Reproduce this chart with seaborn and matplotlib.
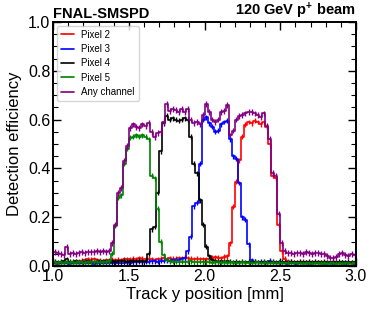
import numpy as np
import pandas as pd
import seaborn as sns
from matplotlib import pyplot as plt
from matplotlib.ticker import MultipleLocator

# efficiency per 0.02 mm bin, 1.0 -> 3.0 mm (10 bins per row)
pixel2 = [0.014, 0.012, 0.015, 0.013, 0.016, 0.014, 0.015, 0.018, 0.020, 0.022,
          0.024, 0.027, 0.026, 0.028, 0.025, 0.022, 0.020, 0.023, 0.025, 0.026,
          0.024, 0.026, 0.025, 0.027, 0.028, 0.026, 0.030, 0.028, 0.032, 0.030,
          0.028, 0.030, 0.027, 0.025, 0.028, 0.030, 0.032, 0.029, 0.031, 0.030,
          0.030, 0.033, 0.031, 0.034, 0.032, 0.030, 0.028, 0.030, 0.029, 0.027,
          0.028, 0.030, 0.034, 0.036, 0.035, 0.033, 0.038, 0.040, 0.093, 0.243,
          0.345, 0.434, 0.530, 0.578, 0.590, 0.585, 0.595, 0.590, 0.580, 0.590,
          0.570, 0.500, 0.370, 0.360, 0.170, 0.060, 0.030, 0.020, 0.018, 0.016,
          0.016, 0.015, 0.017, 0.014, 0.016, 0.015, 0.013, 0.015, 0.014, 0.013,
          0.014, 0.012, 0.013, 0.015, 0.012, 0.014, 0.013, 0.012, 0.013, 0.012]
pixel3 = [0.012, 0.010, 0.013, 0.011, 0.012, 0.010, 0.012, 0.011, 0.013, 0.012,
          0.011, 0.013, 0.012, 0.010, 0.012, 0.013, 0.011, 0.012, 0.013, 0.012,
          0.013, 0.012, 0.014, 0.013, 0.015, 0.014, 0.016, 0.015, 0.017, 0.016,
          0.018, 0.017, 0.019, 0.020, 0.018, 0.021, 0.022, 0.024, 0.022, 0.025,
          0.026, 0.025, 0.028, 0.032, 0.060, 0.120, 0.245, 0.260, 0.420, 0.600,
          0.610, 0.585, 0.570, 0.550, 0.555, 0.580, 0.590, 0.595, 0.520, 0.450,
          0.440, 0.340, 0.200, 0.190, 0.090, 0.025, 0.018, 0.016, 0.018, 0.015,
          0.014, 0.022, 0.016, 0.012, 0.013, 0.011, 0.012, 0.010, 0.012, 0.011,
          0.010, 0.012, 0.011, 0.013, 0.010, 0.012, 0.011, 0.014, 0.012, 0.010,
          0.012, 0.011, 0.010, 0.012, 0.011, 0.013, 0.010, 0.012, 0.011, 0.010]
pixel4 = [0.018, 0.016, 0.018, 0.020, 0.028, 0.018, 0.017, 0.019, 0.016, 0.018,
          0.017, 0.019, 0.018, 0.016, 0.018, 0.020, 0.017, 0.019, 0.018, 0.020,
          0.018, 0.020, 0.019, 0.021, 0.018, 0.020, 0.022, 0.019, 0.021, 0.020,
          0.022, 0.050, 0.150, 0.160, 0.300, 0.470, 0.585, 0.615, 0.600, 0.605,
          0.600, 0.595, 0.600, 0.605, 0.600, 0.530, 0.420, 0.380, 0.270, 0.170,
          0.080, 0.040, 0.025, 0.020, 0.018, 0.020, 0.017, 0.019, 0.018, 0.016,
          0.018, 0.016, 0.017, 0.015, 0.018, 0.016, 0.017, 0.015, 0.016, 0.017,
          0.016, 0.015, 0.017, 0.016, 0.015, 0.018, 0.016, 0.015, 0.017, 0.016,
          0.015, 0.017, 0.016, 0.015, 0.017, 0.016, 0.018, 0.015, 0.016, 0.017,
          0.016, 0.015, 0.017, 0.016, 0.018, 0.016, 0.015, 0.017, 0.016, 0.018]
pixel5 = [0.015, 0.014, 0.016, 0.012, 0.018, 0.014, 0.015, 0.013, 0.016, 0.015,
          0.014, 0.016, 0.015, 0.018, 0.015, 0.017, 0.016, 0.018, 0.020, 0.050,
          0.165, 0.280, 0.290, 0.420, 0.480, 0.525, 0.530, 0.535, 0.530, 0.535,
          0.530, 0.520, 0.370, 0.360, 0.235, 0.100, 0.045, 0.025, 0.020, 0.018,
          0.018, 0.016, 0.018, 0.015, 0.017, 0.019, 0.016, 0.015, 0.018, 0.016,
          0.015, 0.017, 0.014, 0.016, 0.015, 0.013, 0.016, 0.014, 0.015, 0.013,
          0.014, 0.012, 0.015, 0.013, 0.014, 0.012, 0.013, 0.015, 0.012, 0.014,
          0.013, 0.012, 0.014, 0.012, 0.013, 0.011, 0.012, 0.013, 0.011, 0.012,
          0.011, 0.012, 0.010, 0.012, 0.011, 0.010, 0.012, 0.011, 0.010, 0.011,
          0.010, 0.011, 0.012, 0.010, 0.011, 0.010, 0.012, 0.011, 0.010, 0.011]
any_channel = [0.058, 0.052, 0.048, 0.046, 0.078, 0.050, 0.055, 0.050, 0.052, 0.056,
               0.055, 0.057, 0.058, 0.056, 0.060, 0.058, 0.062, 0.058, 0.060, 0.094,
               0.170, 0.300, 0.320, 0.430, 0.490, 0.565, 0.580, 0.570, 0.565, 0.580,
               0.575, 0.585, 0.550, 0.530, 0.545, 0.550, 0.590, 0.665, 0.635, 0.645,
               0.640, 0.630, 0.645, 0.630, 0.645, 0.600, 0.585, 0.590, 0.580, 0.620,
               0.665, 0.630, 0.600, 0.590, 0.600, 0.630, 0.635, 0.660, 0.535, 0.555,
               0.600, 0.615, 0.620, 0.625, 0.630, 0.630, 0.625, 0.620, 0.610, 0.625,
               0.575, 0.520, 0.380, 0.370, 0.215, 0.094, 0.062, 0.055, 0.055, 0.050,
               0.052, 0.055, 0.050, 0.056, 0.053, 0.050, 0.055, 0.052, 0.048, 0.050,
               0.042, 0.035, 0.032, 0.036, 0.050, 0.052, 0.045, 0.040, 0.048, 0.046]

labels = ["Pixel 2", "Pixel 3", "Pixel 4", "Pixel 5", "Any channel"]
colors = ["red", "blue", "black", "green", "purple"]
errors = [0.010, 0.010, 0.010, 0.010, 0.012]

sns.set_style("ticks")
plt.rcParams["font.family"] = ["Liberation Sans", "DejaVu Sans"]
plt.rcParams["mathtext.default"] = "regular"
for key in ["text.color", "axes.labelcolor", "axes.edgecolor", "xtick.color", "ytick.color"]:
    plt.rcParams[key] = "black"

nbins = len(any_channel)
edges = np.linspace(1.0, 3.0, nbins + 1)
centers = 0.5 * (edges[:-1] + edges[1:])

fig = plt.figure(figsize=(3.74, 3.13), dpi=100)
ax = fig.add_axes([0.142, 0.150, 0.810, 0.780])

for eff, lab, col, err in zip([pixel2, pixel3, pixel4, pixel5, any_channel], labels, colors, errors):
    df = pd.DataFrame({"y_pos": centers, "eff": eff})
    sns.histplot(data=df, x="y_pos", weights="eff", bins=nbins, binrange=(1.0, 3.0),
                 element="step", fill=False, color=col, linewidth=1.2, label=lab, ax=ax)
    ax.errorbar(df["y_pos"], df["eff"], yerr=err, fmt="none", ecolor=col, elinewidth=1.0)

ax.set_xlim(1.0, 3.0)
ax.set_ylim(0.0, 1.0)
ax.xaxis.set_major_locator(MultipleLocator(0.5))
ax.xaxis.set_minor_locator(MultipleLocator(0.1))
ax.yaxis.set_major_locator(MultipleLocator(0.2))
ax.yaxis.set_minor_locator(MultipleLocator(0.05))
ax.tick_params(which="both", direction="in", top=True, right=True, labelsize=11.5, pad=2)
ax.tick_params(which="major", length=6, width=1.0)
ax.tick_params(which="minor", length=3.5, width=0.8)
for s in ax.spines.values():
    s.set_linewidth(1.4)

ax.set_xlabel("Track y position [mm]", fontsize=12, labelpad=2)
ax.set_ylabel("Detection efficiency", fontsize=12, labelpad=4)
ax.text(0.0, 1.005, "FNAL-SMSPD", transform=ax.transAxes, ha="left", va="bottom",
        fontsize=10.5, fontweight="bold")
ax.text(1.0, 1.005, "120 GeV p$^{+}$ beam", transform=ax.transAxes, ha="right", va="bottom",
        fontsize=10.5, fontweight="bold")
ax.legend(loc="upper left", fontsize=7, handlelength=1.3, labelspacing=0.45, borderaxespad=0.4)

plt.savefig("out.png", dpi=100)
